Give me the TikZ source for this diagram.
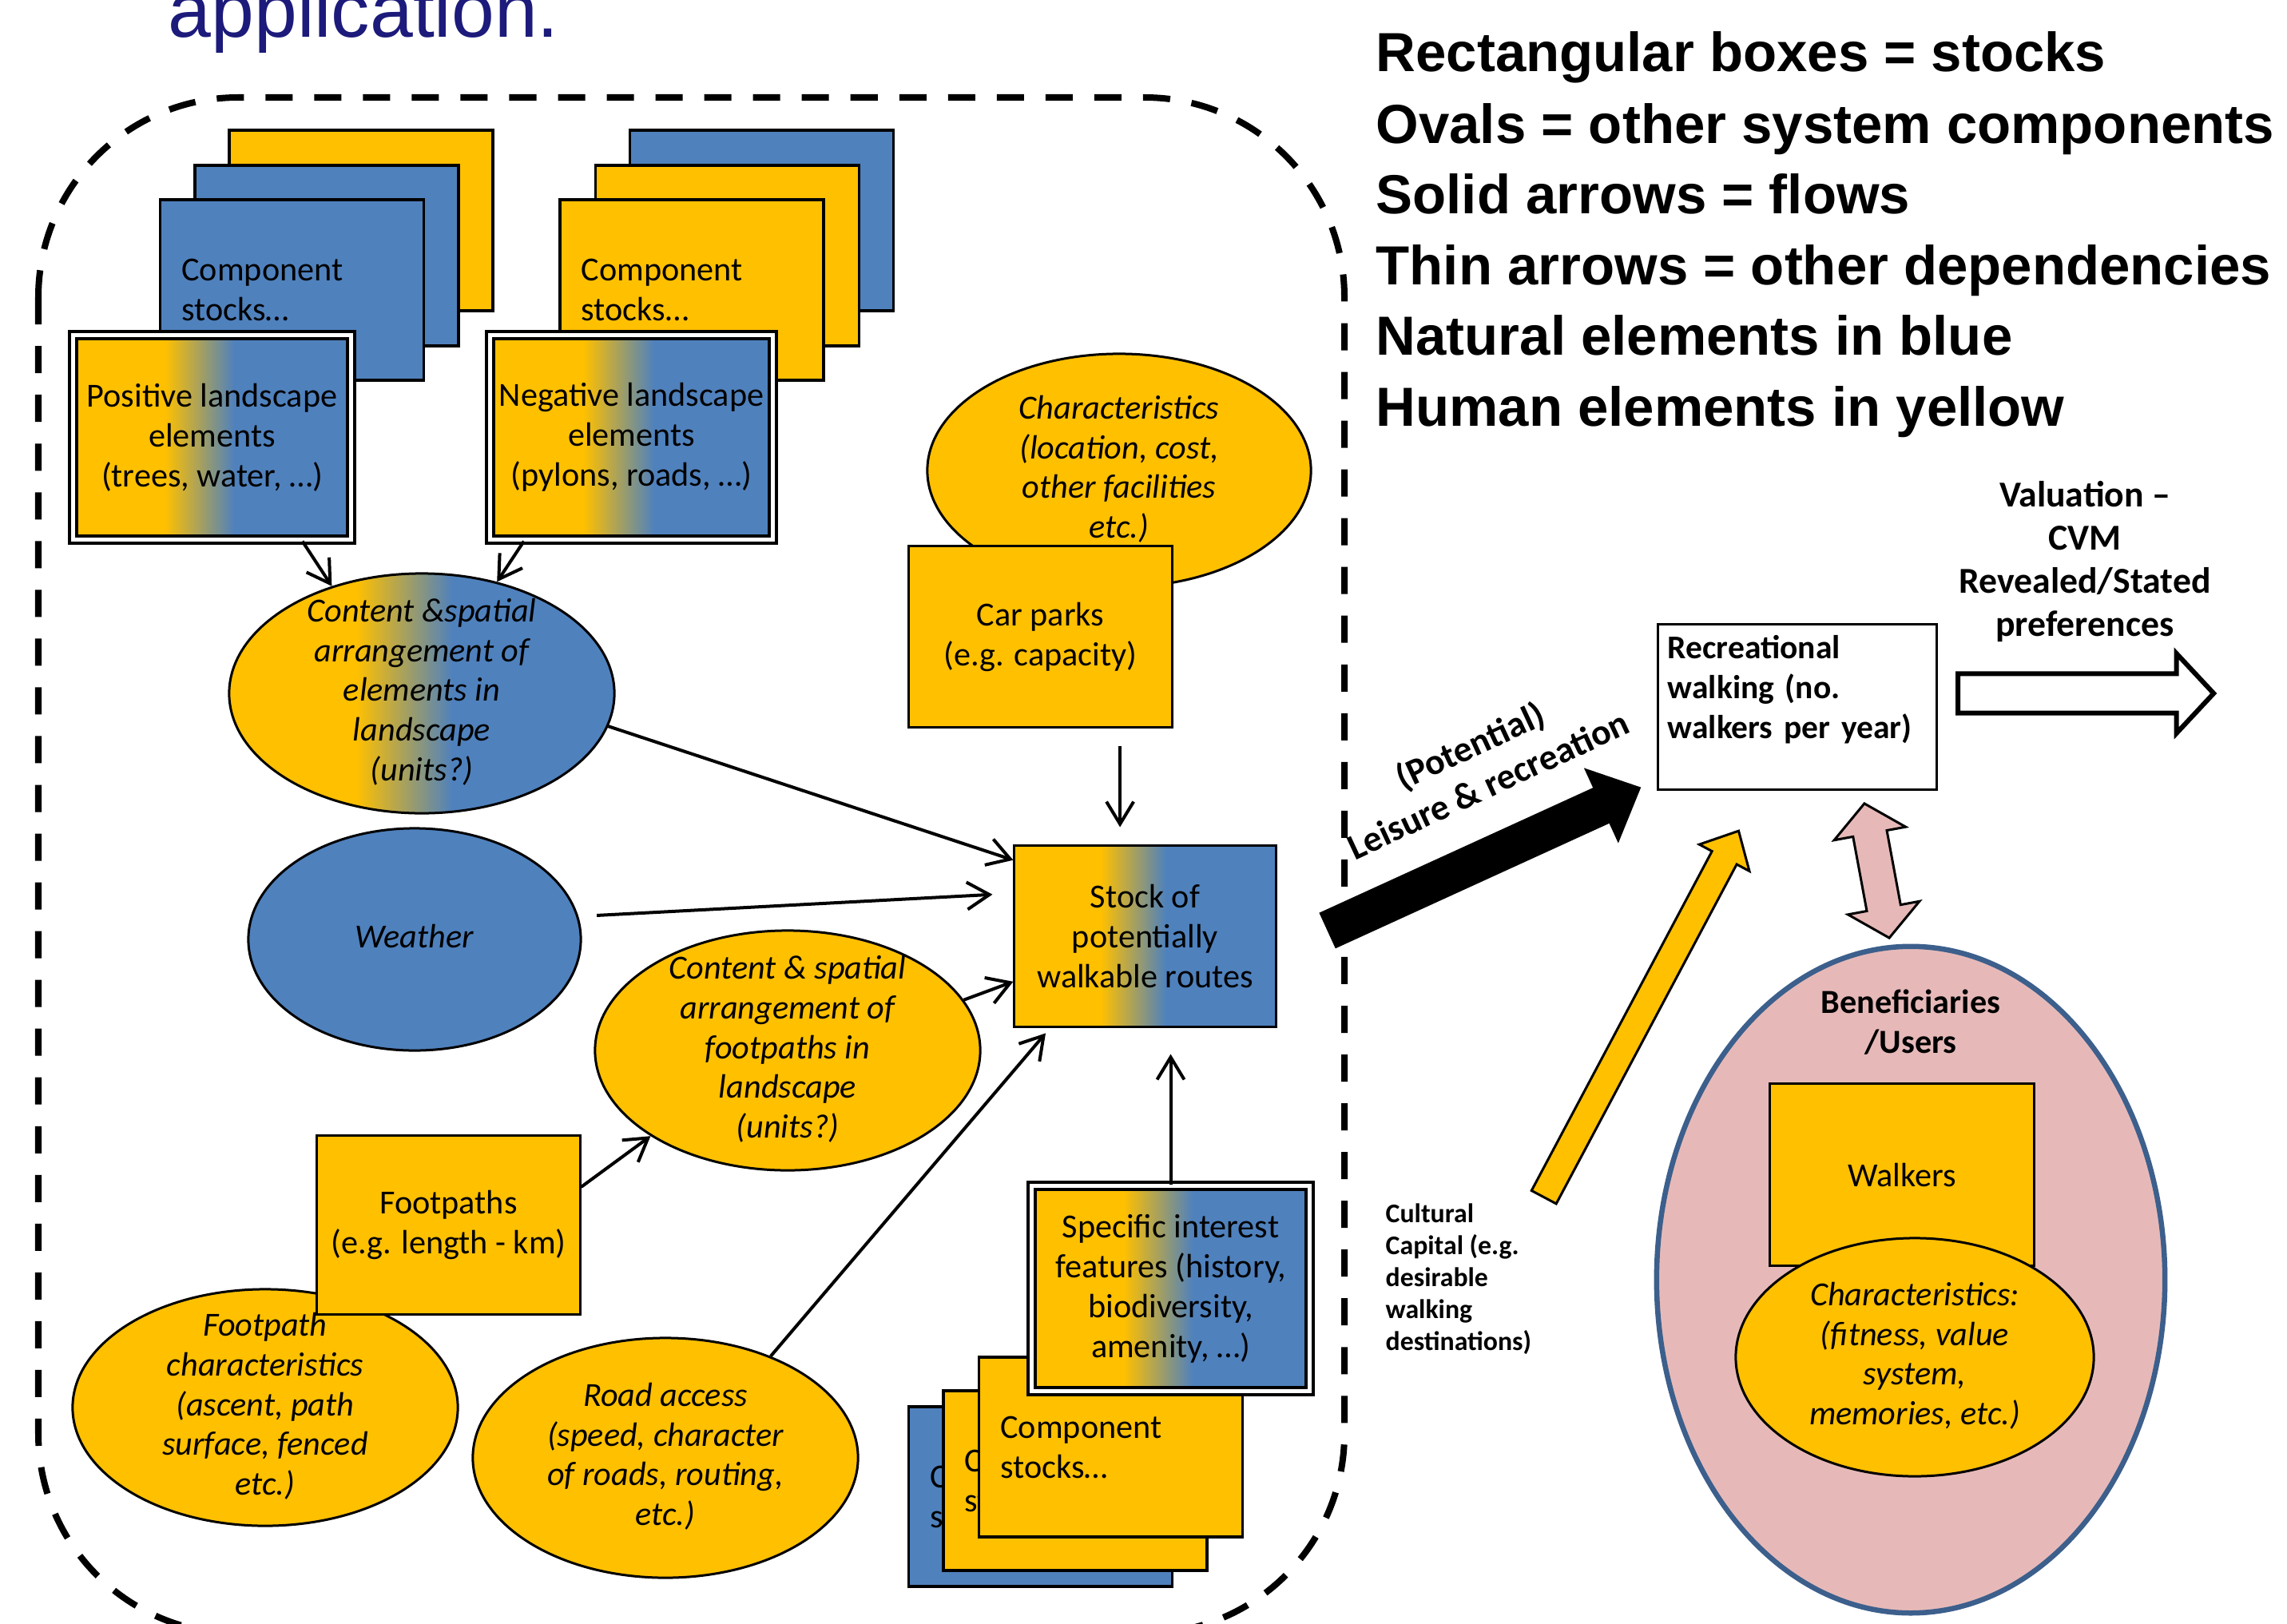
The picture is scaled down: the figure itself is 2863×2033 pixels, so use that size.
\documentclass[tikz,border=0pt]{standalone}
\usepackage{fontspec}
\setmainfont{Carlito}
\newfontfamily\arialfont{Liberation Sans}
\usetikzlibrary{shapes.geometric, shapes.arrows, arrows.meta, calc}
\definecolor{yel}{RGB}{255,192,0}
\definecolor{blu}{RGB}{79,129,189}
\definecolor{pinkc}{RGB}{230,185,184}
\definecolor{bord}{RGB}{60,95,140}
\definecolor{navy}{RGB}{28,26,122}
\pgfdeclarehorizontalshading{yb}{100bp}{color(0bp)=(yel); color(41.5bp)=(yel); color(54bp)=(blu); color(100bp)=(blu)}
\newcommand{\ctext}[2][0pt]{\makebox[0pt]{\raisebox{\dimexpr#1-3pt\relax}[0pt][0pt]{\begin{tabular}{@{}c@{}}#2\end{tabular}}}}
\newcommand{\mainsz}{\fontsize{12}{14.2}\selectfont}
\tikzset{
  card/.style={rectangle, draw=black, line width=0.035cm, minimum width=3.3cm, minimum height=2.26cm, inner xsep=0.27cm, text width=2.76cm, align=left, font=\mainsz},
  ybox/.style={rectangle, draw=black, line width=0.03cm, fill=yel, align=center, font=\mainsz},
  gbox/.style={rectangle, draw=black, line width=0.03cm, shade, shading=yb, minimum width=3.27cm, minimum height=2.26cm, align=center, font=\mainsz},
  dbox/.style={rectangle, shade, shading=yb, draw=black, line width=0.04cm, double=white, double distance=0.05cm, minimum width=3.48cm, minimum height=2.56cm, align=center, font=\mainsz},
  oval/.style={ellipse, draw=black, line width=0.03cm, inner sep=0pt, minimum width=4.82cm, minimum height=3.0cm, font=\mainsz\itshape},
  dep/.style={line width=0.04cm, -{Straight Barb[length=0.28cm,width=0.34cm]}},
  flow/.style={line width=0.49cm, -{Triangle[length=0.55cm,width=1.0cm]}},
  legend/.style={font=\arialfont\bfseries\fontsize{19.6}{23.5}\selectfont, anchor=base west, inner sep=0pt},
  bnd/.style={line width=0.08cm, dash pattern=on 0.34cm off 0.27cm, rounded corners=2.5cm},
}
\begin{document}
\begin{tikzpicture}[x=0.01cm, y=-0.01cm]
\useasboundingbox (0,0) rectangle (2863,2033);
\fill[white] (0,0) rectangle (2863,2033);
% boundary
\draw[bnd] (48,122) rectangle (1683,2045);
% title and legend
\node[font=\arialfont\fontsize{27.5}{30}\selectfont, text=navy, anchor=base west, inner sep=0pt] (title) at (210,46) {application.};
\node[legend] (lg1) at (1722,90) {Rectangular boxes = stocks};
\node[legend] (lg2) at (1722,179) {Ovals = other system components};
\node[legend] (lg3) at (1722,267) {Solid arrows = flows};
\node[legend] (lg4) at (1722,356) {Thin arrows = other dependencies};
\node[legend] (lg5) at (1722,444) {Natural elements in blue};
\node[legend] (lg6) at (1722,533) {Human elements in yellow};
% top-left stack
\node[card, fill=yel] (tlA) at (452,276) {Component\\stocks…};
\node[card, fill=blu] (tlB) at (409,320) {Component\\stocks…};
\node[card, fill=blu] (tlC) at (365.5,363) {Component\\stocks…};
% top-right stack
\node[card, fill=blu] (trA) at (953.5,276) {Component\\stocks…};
\node[card, fill=yel] (trB) at (910.5,320) {Component\\stocks…};
\node[card, fill=yel] (trC) at (866,363) {Component\\stocks…};
\node[dbox] (pos) at (265.5,547.5) {Positive landscape\\elements\\(trees, water, …)};
\node[dbox] (neg) at (790.5,547.5) {Negative landscape\\elements\\(pylons, roads, …)};
% car parks
\node[oval, fill=yel, minimum width=4.8cm, minimum height=2.92cm] (cpchar) at (1401,589) {\ctext{Characteristics\\(location, cost,\\other facilities\\etc.)}};
\node[ybox, minimum width=3.29cm, minimum height=2.26cm] (carpark) at (1302.5,797) {Car parks\\(e.g. capacity)};
% middle
\node[oval, shade, shading=yb] (c1) at (528,868) {\ctext{Content \&spatial\\arrangement of\\elements in\\landscape\\(units?)}};
\node[oval, fill=blu, minimum width=4.16cm, minimum height=2.78cm] (weather) at (519,1176) {\ctext{Weather}};
\node[gbox] (stock) at (1433.5,1172) {Stock of\\potentially\\walkable routes};
\node[oval, fill=yel] (c2) at (986,1315) {\ctext{Content \& spatial\\arrangement of\\footpaths in\\landscape\\(units?)}};
% bottom left
\node[oval, fill=yel, minimum height=2.96cm] (fpchar) at (332,1762) {\ctext{Footpath\\characteristics\\(ascent, path\\surface, fenced\\etc.)}};
\node[ybox, minimum width=3.29cm, minimum height=2.23cm] (fp) at (561.5,1533.5) {Footpaths\\(e.g. length - km)};
\node[oval, fill=yel] (road) at (833,1825) {\ctext{Road access\\(speed, character\\of roads, routing,\\etc.)}};
% bottom stack
\node[card, fill=blu, minimum height=2.25cm] (bA) at (1302.5,1873.5) {Component\\stocks…};
\node[card, fill=yel, minimum height=2.25cm] (bB) at (1346,1853.5) {Component\\stocks…};
\node[card, fill=yel, minimum height=2.25cm] (bC) at (1390.5,1811.5) {Component\\stocks…};
\node[dbox] (spec) at (1465.5,1613) {Specific interest\\features (history,\\biodiversity,\\amenity, …)};
% dependencies
\draw[dep] (pos.-49.2) -- (c1.130);
\draw[dep] (neg.-136.6) -- (c1.56.6);
\draw[dep] (c1.-10) -- (stock.150.7);
\draw[dep, shorten <=0.23cm, shorten >=0.26cm] (weather.8.3) -- (stock.162.7);
\draw[dep] (c2.16.9) -- (stock.-161.6);
\draw[dep, shorten >=0.09cm] (road.44.6) -- (stock.-136.1);
\draw[dep, shorten <=0.22cm, shorten >=0.22cm] (carpark.-49.5) -- (carpark.-49.5 |- stock.north);
\draw[dep, shorten >=0.33cm] (spec.north) -- (spec.north |- stock.south);
\draw[dep] (fp.16.4) -- (c2.-148.7);
% right side
\node[rectangle, draw=black, line width=0.03cm, fill=white, minimum width=3.48cm, minimum height=2.06cm, text width=3.24cm, align=left, font=\fontsize{11.8}{14.2}\selectfont\bfseries] (rec) at (2250,885) {Recreational\\walking (no.\\walkers per year)\\\mbox{}};
\node[font=\bfseries\fontsize{13}{15.4}\selectfont, align=center] (val) at (2610,703) {Valuation –\\CVM\\Revealed/Stated\\preferences};
\node[single arrow, draw=black, line width=0.06cm, fill=white, minimum height=3.2cm, minimum width=0.94cm, single arrow head extend=0.255cm, single arrow tip angle=94, inner xsep=0pt, inner ysep=0.215cm, anchor=tail] (valarrow) at (2448,868) {};
\draw[flow] ($(stock.east)+(63,-7)$) -- ($(rec.south west)+(-20,-4)$);
\node[font=\bfseries\fontsize{13}{15.4}\selectfont, align=center, rotate=25, inner sep=0pt] (leis) at (1851,957) {(Potential)\\Leisure \& recreation};
\node[font=\bfseries\fontsize{9.6}{11.4}\selectfont, align=left, anchor=west, inner sep=0pt] (cult) at (1734,1601) {Cultural\\Capital (e.g.\\desirable\\walking\\destinations)};
\node[single arrow, draw=black, line width=0.03cm, fill=yel, minimum height=5.19cm, minimum width=0.68cm, single arrow head extend=0.18cm, single arrow tip angle=86, inner xsep=0pt, inner ysep=0.16cm, anchor=tail, rotate=62] (cultarrow) at (1932,1500) {};
\node[double arrow, draw=black, line width=0.03cm, fill=pinkc, minimum height=1.71cm, minimum width=0.88cm, double arrow head extend=0.24cm, double arrow tip angle=100, inner xsep=0pt, inner ysep=0.2cm, rotate=-79.5] (pinkarrow) at (2349.5,1090) {};
\node[ellipse, draw=bord, line width=0.065cm, fill=pinkc, minimum width=6.36cm, minimum height=8.34cm, inner sep=0pt, font=\mainsz\bfseries] (ben) at (2392,1602) {\ctext[3.18cm]{Beneficiaries\\/Users}};
\node[ybox, minimum width=3.3cm, minimum height=2.27cm] (walkers) at (2381,1470.5) {Walkers};
\node[oval, fill=yel, minimum width=4.48cm, minimum height=2.98cm] (benchar) at (2397,1699) {\ctext{Characteristics:\\(fitness, value\\system,\\memories, etc.)}};
\end{tikzpicture}
\end{document}
